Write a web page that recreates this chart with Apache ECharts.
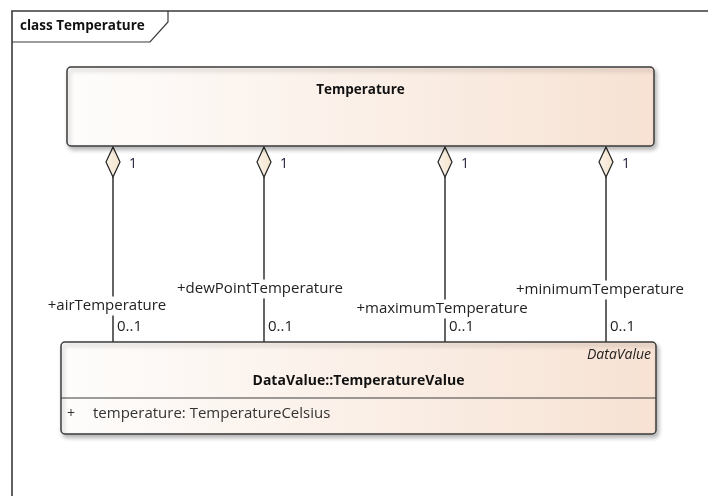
<!DOCTYPE html>
<html>
<head>
<meta charset="utf-8">
<script src="https://cdn.jsdelivr.net/npm/echarts@6/dist/echarts.min.js"></script>
<style>
  html, body { margin: 0; padding: 0; background: #fff; }
  #main { width: 708px; height: 496px; }
</style>
</head>
<body>
<div id="main"></div>
<script>
// diagram data
var diagramTitle = 'class Temperature';
var classNames = ['Temperature', 'DataValue::TemperatureValue'];
var stereotypes = ['', 'DataValue'];
var attributes = [[], ['+', 'temperature: TemperatureCelsius']];
// class boxes in diagram units: [x0, y0, x1, y1]
var classBoxes = [[67, 67, 654, 146], [61, 342, 656, 434]];
// associations
var roleNames = ['+airTemperature', '+dewPointTemperature', '+maximumTemperature', '+minimumTemperature'];
var roleX = [113, 264, 445, 606];
var roleLabelX = [107, 260, 442, 600];
var roleLabelY = [306, 289, 309, 290];
var sourceMult = ['1', '1', '1', '1'];
var targetMult = ['0..1', '0..1', '0..1', '0..1'];

var FONT = 'Open Sans';
var chart = echarts.init(document.getElementById('main'));

function boxFill() {
  return new echarts.graphic.LinearGradient(0, 0, 1, 0, [
    { offset: 0, color: '#fefdfc' },
    { offset: 1, color: '#f7e2d3' }
  ]);
}

function renderFrame(params, api) {
  var p0 = api.coord([12, 496]);
  var p1 = api.coord([12, 11]);
  var p2 = api.coord([708, 11]);
  var tabR = api.coord([168, 11]);
  var tabM = api.coord([168, 22]);
  var tabB = api.coord([150, 42]);
  var tabL = api.coord([12, 42]);
  var st = { stroke: '#3a3a3a', lineWidth: 1.6, fill: null };
  return {
    type: 'group',
    children: [
      { type: 'polyline', shape: { points: [p0, p1, p2] }, style: st },
      { type: 'polyline', shape: { points: [tabR, tabM, tabB, tabL] }, style: { stroke: '#3a3a3a', lineWidth: 1.2, fill: null } },
      { type: 'text', x: tabL[0] + 8, y: (p1[1] + tabL[1]) / 2,
        style: { text: diagramTitle, font: 'bold 13.5px ' + FONT, fill: '#111', verticalAlign: 'middle', letterSpacing: -0.5 } }
    ]
  };
}

function renderBox(params, api) {
  var i = params.dataIndex;
  var b = classBoxes[i];
  var tl = api.coord([b[0], b[1]]);
  var br = api.coord([b[2], b[3]]);
  var w = br[0] - tl[0], h = br[1] - tl[1];
  var cx = (tl[0] + br[0]) / 2;
  var children = [
    { type: 'rect', shape: { x: tl[0], y: tl[1], width: w, height: h, r: 4 },
      style: { fill: boxFill(), stroke: '#3c3c3c', lineWidth: 1.5,
        shadowBlur: 4, shadowOffsetX: 2, shadowOffsetY: 3, shadowColor: 'rgba(0,0,0,0.28)' } }
  ];
  if (stereotypes[i]) {
    children.push({ type: 'text', x: br[0] - 5, y: tl[1] + 13,
      style: { text: stereotypes[i], font: 'italic 14px ' + FONT, fill: '#222', align: 'right', verticalAlign: 'middle' } });
    children.push({ type: 'text', x: cx, y: tl[1] + 39,
      style: { text: classNames[i], font: 'bold 14px ' + FONT, fill: '#111', align: 'center', verticalAlign: 'middle' } });
  } else {
    children.push({ type: 'text', x: cx, y: tl[1] + 23,
      style: { text: classNames[i], font: 'bold 13.5px ' + FONT, fill: '#111', align: 'center', verticalAlign: 'middle' } });
  }
  if (attributes[i].length) {
    var sepY = tl[1] + 56;
    children.push({ type: 'line', shape: { x1: tl[0], y1: sepY, x2: br[0], y2: sepY },
      style: { stroke: '#3c3c3c', lineWidth: 1.2 } });
    children.push({ type: 'text', x: tl[0] + 6, y: sepY + 16,
      style: { text: attributes[i][0], font: '14px ' + FONT, fill: '#333', verticalAlign: 'middle' } });
    children.push({ type: 'text', x: tl[0] + 32, y: sepY + 16,
      style: { text: attributes[i][1], font: '15px ' + FONT, fill: '#333', verticalAlign: 'middle' } });
  }
  return { type: 'group', children: children };
}

function renderAssoc(params, api) {
  var i = params.dataIndex;
  var x = roleX[i];
  var top = api.coord([x, classBoxes[0][3] + 1]);
  var mid = api.coord([x, classBoxes[0][3] + 16]);
  var dBot = api.coord([x, classBoxes[0][3] + 31]);
  var end = api.coord([x, classBoxes[1][1]]);
  var lbl = api.coord([roleLabelX[i], roleLabelY[i]]);
  return {
    type: 'group',
    children: [
      { type: 'line', shape: { x1: dBot[0], y1: dBot[1], x2: end[0], y2: end[1] },
        style: { stroke: '#111', lineWidth: 1.3 } },
      { type: 'polygon', shape: { points: [top, [mid[0] + 7, mid[1]], dBot, [mid[0] - 7, mid[1]]] },
        style: { fill: new echarts.graphic.LinearGradient(0, 0, 1, 0, [
          { offset: 0, color: '#fbf4ea' }, { offset: 1, color: '#f3e3cc' }]),
          stroke: '#222', lineWidth: 1.2 } },
      { type: 'text', x: mid[0] + 16, y: mid[1] + 2,
        style: { text: sourceMult[i], font: '14px ' + FONT, fill: '#1c1c3a', verticalAlign: 'middle' } },
      { type: 'text', x: lbl[0], y: lbl[1],
        style: { text: roleNames[i], font: '15px ' + FONT, fill: '#222', align: 'center', verticalAlign: 'middle',
          backgroundColor: '#fff', padding: [2, 1, 2, 1] } },
      { type: 'text', x: end[0] + 4, y: end[1] - 15,
        style: { text: targetMult[i], font: '15px ' + FONT, fill: '#222', verticalAlign: 'middle' } }
    ]
  };
}

chart.setOption({
  animation: false,
  backgroundColor: '#fff',
  grid: { left: 0, right: 0, top: 0, bottom: 0 },
  xAxis: { type: 'value', min: 0, max: 708, show: false },
  yAxis: { type: 'value', min: 0, max: 496, inverse: true, show: false },
  series: [
    { type: 'custom', renderItem: renderFrame, data: [[0, 0]], silent: true, z: 1 },
    { type: 'custom', renderItem: renderAssoc, data: roleNames.map(function (n, i) { return [roleX[i], roleLabelY[i]]; }), silent: true, z: 2 },
    { type: 'custom', renderItem: renderBox, data: classBoxes, silent: true, z: 3 }
  ]
});
</script>
</body>
</html>
